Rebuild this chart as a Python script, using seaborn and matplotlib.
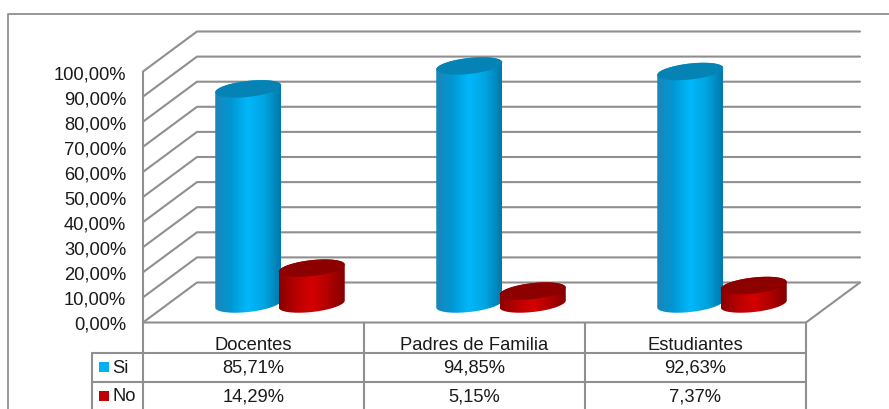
import numpy as np
import pandas as pd
import matplotlib
matplotlib.use("Agg")
import matplotlib.pyplot as plt
import seaborn as sns
from matplotlib.colors import LinearSegmentedColormap
from matplotlib.lines import Line2D
from matplotlib.patches import Polygon, Rectangle

# data
categories = ["Docentes", "Padres de Familia", "Estudiantes"]
si_values = [85.71, 94.85, 92.63]
no_values = [14.29, 5.15, 7.37]
si_labels = ["85,71%", "94,85%", "92,63%"]
no_labels = ["14,29%", "5,15%", "7,37%"]
y_ticks = [0, 10, 20, 30, 40, 50, 60, 70, 80, 90, 100]
y_tick_labels = ["0,00%", "10,00%", "20,00%", "30,00%", "40,00%", "50,00%",
                 "60,00%", "70,00%", "80,00%", "90,00%", "100,00%"]

GREY = "#8f8f8f"
W, H = 889, 410
X_PX = 221.0    # pixels per category
Y_PX = 2.51     # pixels per percent

sns.set_style("white")
plt.rcParams["font.family"] = ["Liberation Sans", "DejaVu Sans"]
plt.rcParams["font.size"] = 13.2

df = pd.DataFrame({
    "cat": categories * 2,
    "serie": ["Si"] * 3 + ["No"] * 3,
    "val": si_values + no_values,
})

fig = plt.figure(figsize=(W / 100, H / 100), dpi=100)
ax = fig.add_axes([143 / W, 1 - 323.5 / H, 663 / W, 251 / H])
sns.barplot(data=df, x="cat", y="val", hue="serie", hue_order=["Si", "No"],
            palette=["#00b0f0", "#c00000"], width=63.5 / X_PX * 2, gap=0,
            legend=False, ax=ax, zorder=3)

# walls and floor
depth_x = 54 / X_PX
depth_y = 40 / Y_PX
x0, x1 = -0.5, 2.5
line = dict(color=GREY, lw=1.5, clip_on=False, zorder=1, solid_capstyle="round")
for v in y_ticks:
    ax.plot([x0, x0 + depth_x, x1 + depth_x], [v, v + depth_y, v + depth_y], **line)
ax.plot([x0, x0], [0, 100], **line)
ax.plot([x0, x1, x1 + depth_x], [0, 0, depth_y], **line)

# cylinders, built on top of the seaborn bars
shift_x = 26.5 / X_PX
shift_y = 18.5 / Y_PX
half_w = 33 / X_PX
tilt = 3.5 / Y_PX
squash = 8 / Y_PX
ramps = {
    "Si": LinearSegmentedColormap.from_list("si", ["#1b86b8", "#0098d4", "#00b8fb", "#00a4e0", "#0078aa"]),
    "No": LinearSegmentedColormap.from_list("no", ["#8a0000", "#b80000", "#d40000", "#b00000", "#840000"]),
}
caps = {"Si": "#0583b5", "No": "#8c0000"}


def arc(cx, cy, t):
    return np.column_stack([cx + half_w * np.cos(t),
                            cy + tilt * np.cos(t) + squash * np.sin(t)])


series = ["Si"] * 3 + ["No"] * 3
bars = sorted(zip(ax.patches, series), key=lambda b: b[0].get_x())
for bar, name in bars:
    cx = bar.get_x() + bar.get_width() / 2 + shift_x
    base = shift_y
    top = base + bar.get_height()
    body = np.vstack([arc(cx, base, np.linspace(np.pi, 2 * np.pi, 60)),
                      arc(cx, top, np.linspace(0, np.pi, 60))])
    clip = Polygon(body, transform=ax.transData)
    bar.set_visible(False)
    im = ax.imshow(np.linspace(0, 1, 256).reshape(1, -1), cmap=ramps[name], aspect="auto",
                   extent=(cx - half_w, cx + half_w, base - 2 * squash, top + 2 * squash),
                   zorder=3)
    im.set_clip_path(clip)
    im.set_clip_box(fig.bbox)
    ax.add_patch(Polygon(arc(cx, top, np.linspace(0, 2 * np.pi, 80)), closed=True,
                         fc=caps[name], ec="none", clip_on=False, zorder=3))

ax.set_xlim(x0, x1)
ax.set_ylim(0, 100)
ax.set_xlabel("")
ax.set_ylabel("")
ax.set_yticks(y_ticks, y_tick_labels)
ax.tick_params(axis="y", length=0, pad=12, labelsize=13.2, colors="#1a1a1a")
ax.tick_params(axis="x", length=0, pad=9.5, labelsize=13.2, colors="#1a1a1a")
ax.patch.set_visible(False)
for s in ax.spines.values():
    s.set_visible(False)

# data table under the chart
row1 = -30 / Y_PX
row2 = -59.5 / Y_PX
row3 = -87 / Y_PX
key_x = x0 - 51 / X_PX
table = dict(color=GREY, lw=1.5, clip_on=False, zorder=1)
for x in [x0, 0.5, 1.5, x1]:
    ax.plot([x, x], [0, row3], **table)
ax.plot([key_x, key_x], [row1, row3], **table)
ax.plot([key_x, x1], [row1, row1], **table)
ax.plot([key_x, x1], [row2, row2], **table)
ax.set_xlim(x0, x1)
ax.set_ylim(0, 100)

for i in range(3):
    ax.text(i, (row1 + row2) / 2, si_labels[i], ha="center", va="center", color="#1a1a1a")
    ax.text(i, (row2 + row3) / 2, no_labels[i], ha="center", va="center", color="#1a1a1a")

for label, colour, top_row, bottom_row in [("Si", "#00b0f0", row1, row2), ("No", "#c00000", row2, row3)]:
    mid = (top_row + bottom_row) / 2
    ax.add_patch(Rectangle((key_x + 7 / X_PX, mid - 5 / Y_PX), 10 / X_PX, 10 / Y_PX,
                           fc=colour, ec="none", clip_on=False))
    ax.text(key_x + 20 / X_PX, mid, label, ha="left", va="center", color="#1a1a1a")

# outer frame, cut by the picture on the right and bottom
fig.add_artist(Line2D([8 / W, 8 / W, 1], [0, 1 - 15 / H, 1 - 15 / H], color=GREY, lw=1.3))

fig.savefig("out.png", dpi=100)
